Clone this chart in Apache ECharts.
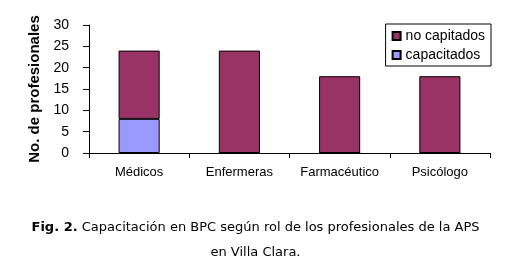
<!DOCTYPE html>
<html>
<head>
<meta charset="utf-8">
<script src="https://cdn.jsdelivr.net/npm/echarts@6/dist/echarts.min.js"></script>
<style>
html,body{margin:0;padding:0;background:#fff;}
#c{width:511px;height:266px;}
</style>
</head>
<body>
<div id="c"></div>
<script>
var categories = ['Médicos', 'Enfermeras', 'Farmacéutico', 'Psicólogo'];
var capacitados = [8, 0, 0, 0];
var noCapitados = [16, 24, 18, 18];
var yTicks = [0, 5, 10, 15, 20, 25, 30];
var yTitle = 'No. de profesionales';
var captionBold = 'Fig. 2.';
var captionLine1 = ' Capacitación en BPC según rol de los profesionales de la APS';
var captionLine2 = 'en Villa Clara.';

var chart = echarts.init(document.getElementById('c'), null, {renderer: 'canvas'});
var fontAx = 'Liberation Sans';
var fontCap = 'DejaVu Sans';
chart.setOption({
  animation: false,
  backgroundColor: '#fff',
  grid: {left: 89, right: 21, top: 25, bottom: 113, containLabel: false},
  legend: {
    data: ['no capitados', 'capacitados'],
    orient: 'vertical',
    right: 20,
    top: 24,
    padding: [5, 6, 4, 6],
    itemGap: 5,
    itemWidth: 8,
    itemHeight: 8,
    borderColor: '#000',
    borderWidth: 1,
    borderRadius: 0,
    backgroundColor: '#fff',
    textStyle: {fontFamily: fontAx, fontSize: 14, color: '#000'},
    icon: 'rect'
  },
  xAxis: {
    type: 'category',
    data: categories,
    boundaryGap: true,
    axisLine: {lineStyle: {color: '#000', width: 1}},
    axisTick: {show: true, length: 5, lineStyle: {color: '#000'}},
    axisLabel: {interval: 0, color: '#000', fontFamily: fontAx, fontSize: 13, margin: 13}
  },
  yAxis: {
    type: 'value',
    min: yTicks[0],
    max: yTicks[yTicks.length - 1],
    interval: 5,
    name: yTitle,
    nameLocation: 'middle',
    nameGap: 47,
    nameTextStyle: {fontFamily: fontAx, fontSize: 15, fontWeight: 'bold', color: '#000'},
    axisLine: {show: true, lineStyle: {color: '#000', width: 1}},
    axisTick: {show: true, length: 6, lineStyle: {color: '#000'}},
    splitLine: {show: false},
    axisLabel: {color: '#000', fontFamily: fontAx, fontSize: 14, margin: 20}
  },
  series: [
    {
      name: 'capacitados', type: 'bar', stack: 'a', data: capacitados,
      barWidth: '41%',
      itemStyle: {color: '#9999FF', borderColor: '#000', borderWidth: 1}
    },
    {
      name: 'no capitados', type: 'bar', stack: 'a', data: noCapitados,
      barWidth: '41%',
      itemStyle: {color: '#993366', borderColor: '#000', borderWidth: 1}
    }
  ],
  graphic: [
    {
      type: 'text', left: 'center', top: 221,
      style: {
        rich: {
          b: {fontFamily: fontCap, fontSize: 13, fontWeight: 'bold', fill: '#000'},
          n: {fontFamily: fontCap, fontSize: 13, fill: '#000'}
        },
        text: '{b|' + captionBold + '}{n|' + captionLine1 + '}'
      }
    },
    {
      type: 'text', left: 'center', top: 246,
      style: {
        text: captionLine2,
        fontFamily: fontCap,
        fontSize: 13,
        fill: '#000'
      }
    }
  ]
});
</script>
</body>
</html>
